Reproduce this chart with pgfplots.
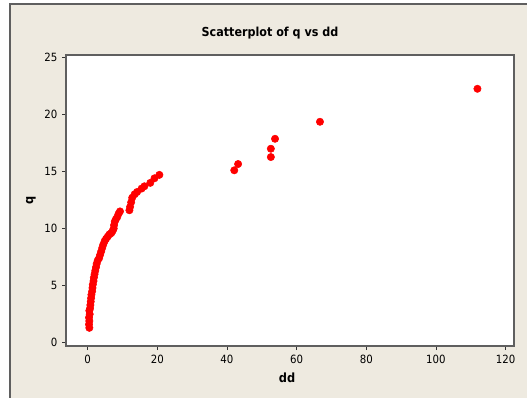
\documentclass[border=0pt]{standalone}
\usepackage{pgfplots}
\pgfplotsset{compat=1.18}
\usepackage{fontspec}
\setmainfont{DejaVu Sans Condensed}
\definecolor{bg}{RGB}{238,234,224}
\definecolor{axgray}{RGB}{95,95,95}
\begin{document}
\begin{tikzpicture}[x=0.75pt,y=-0.75pt]
\path[use as bounding box] (0,0) rectangle (527,398);
\begin{scope}
\clip (0,0) rectangle (527,398);
\fill[bg] (10,4) rectangle (540,410);
\draw[axgray, line width=0.8pt] (10,410) -- (10,4) -- (540,4);
\end{scope}
\node[font=\bfseries\fontsize{9.3}{11}\selectfont] at (270,33) {Scatterplot of q vs dd};
\node[font=\bfseries\fontsize{9.5}{11}\selectfont, rotate=90] at (31,200) {q};
\node[font=\bfseries\fontsize{9.5}{11}\selectfont] at (287,378) {dd};
\begin{axis}[
  at={(49.5pt,-259.5pt)}, anchor=south west,
  scale only axis, width=336pt, height=218.25pt,
  xmin=-6.2, xmax=122.4, ymin=-0.29, ymax=25.2,
  xtick={0,20,...,120}, ytick={0,5,...,25},
  xtick pos=left, ytick pos=left,
  tick align=outside, major tick length=3pt,
  axis line style={axgray, line width=0.9pt},
  tick style={black!80, line width=0.6pt},
  axis background/.style={fill=white},
  /pgf/number format/assume math mode=true,
  tick label style={font=\fontsize{8.5}{10}\selectfont},
]
\addplot[only marks, mark=*, mark size=2.75pt, mark options={fill=red, draw=red}] coordinates {
(0.5,1.3) (0.4,1.6) (0.5,1.9) (0.4,2.2) (0.6,2.5) (0.5,2.8) (0.7,3.0) (0.8,3.3)
(0.9,3.6) (1.0,3.9) (1.1,4.2) (1.3,4.5) (1.4,4.8) (1.5,5.1) (1.7,5.4) (1.8,5.7)
(2.0,6.0) (2.2,6.3) (2.4,6.6) (2.6,6.9) (2.9,7.2) (3.3,7.4) (3.6,7.7) (3.9,8.0)
(4.2,8.3) (4.5,8.6) (4.9,8.9) (5.3,9.1) (5.8,9.3) (6.3,9.5) (6.8,9.6) (7.2,9.8)
(7.5,10.0) (7.6,10.3) (7.8,10.6) (8.1,10.8) (8.5,11.0) (8.9,11.3) (9.3,11.5)
(12.0,11.6) (12.2,11.9) (12.5,12.3) (12.8,12.7) (13.5,13.0) (14.2,13.2)
(15.5,13.5) (16.3,13.7) (18.0,14.0) (19.2,14.4) (20.6,14.7)
(42.1,15.1) (43.2,15.65) (52.6,16.26) (52.6,16.99) (53.8,17.86)
(66.7,19.35) (111.9,22.24)
};
\end{axis}
\end{tikzpicture}
\end{document}
